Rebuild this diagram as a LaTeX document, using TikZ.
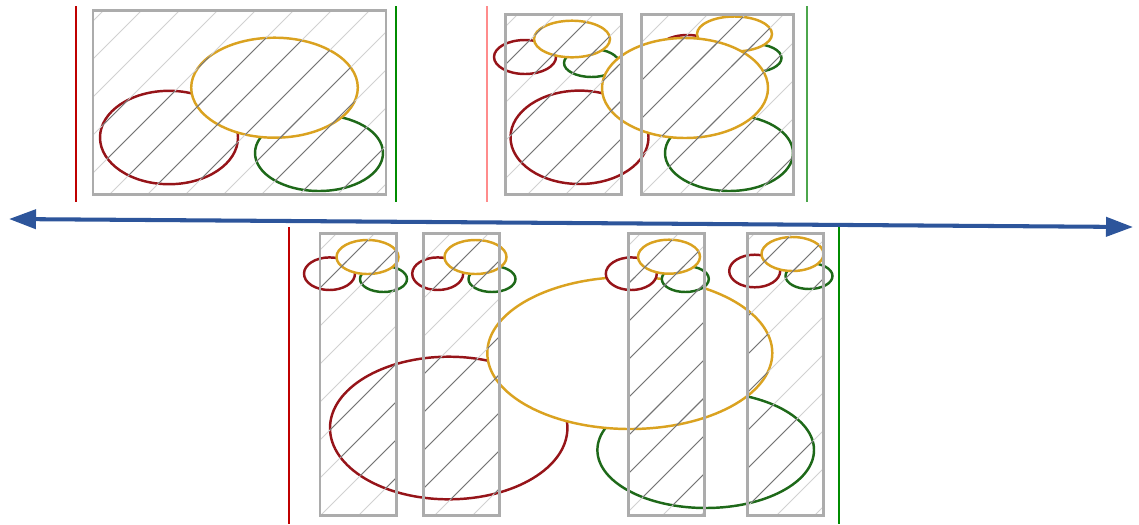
\documentclass[tikz,border=0pt]{standalone}
\usetikzlibrary{arrows.meta}
\definecolor{ellred}{RGB}{150, 20, 25}
\definecolor{ellgold}{RGB}{218, 162, 32}
\definecolor{ellgreen}{RGB}{30, 105, 25}
\definecolor{boxgray}{RGB}{172, 172, 172}
\definecolor{arrowblue}{RGB}{45, 85, 155}

% hatching over the whole sheet, cut by the clip in force
\newcommand{\hatchlines}[1]{%
  \foreach \hx in {0,38,...,1406} {\draw[#1] (\hx,0) -- ++(-600,-600);}}

% ellipses as colour/cx/cy/rx/ry, pixel units, y going down
\newcommand{\ellipses}[1]{%
  \foreach \col/\ex/\ey/\erx/\ery in #1 {%
    \draw[ellline, draw=\col] (\ex,-\ey) ellipse [x radius=\erx, y radius=\ery];}}

% darker hatching inside the ellipses
\newcommand{\darkhatch}[1]{%
  \foreach \col/\ex/\ey/\erx/\ery in #1 {%
    \begin{scope}
      \clip (\ex,-\ey) ellipse [x radius=\erx, y radius=\ery];
      \hatchlines{hatchdark}
    \end{scope}}}

\begin{document}
\begin{tikzpicture}[x=0.2mm, y=0.2mm,
  ellline/.style={line width=1.4pt, fill=white},
  boxline/.style={draw=boxgray, line width=1.7pt},
  hatchlight/.style={draw=black!18, line width=0.5pt},
  hatchdark/.style={draw=black!55, line width=0.5pt},
  redmark/.style={draw=red!75!black, line width=0.7pt},
  greenmark/.style={draw=green!55!black, line width=0.7pt},
  timearrow/.style={draw=arrowblue, line width=2.3pt,
    {Triangle[length=5.4mm, width=3.8mm]}-{Triangle[length=5.4mm, width=3.8mm]}}]

\useasboundingbox (0,0) rectangle (1139,-524);

% ============================================================
%  PANEL 1  --  one box, three ellipses
% ============================================================
\def\ellone{ellred/169/137.5/69/46.7, ellgreen/319/153/64/38,
  ellgold/274.5/87.7/83.3/50}
\draw[redmark] (76,-6) -- (76,-202);
\draw[greenmark] (396,-6) -- (396,-202);
\ellipses{\ellone}
\begin{scope}
  \clip (93,-10) rectangle (386,-194);
  \hatchlines{hatchlight}
  \darkhatch{\ellone}
\end{scope}
\draw[boxline] (93,-10) rectangle (386,-194);

% ============================================================
%  PANEL 2  --  two boxes, small clusters under the big ones
% ============================================================
\def\elltwo{ellred/525/57/31/17, ellgreen/591.5/63/27.5/14,
  ellgold/572/39/38/18.3,
  ellred/687.5/52/31/17, ellgreen/754/58/27.5/14,
  ellgold/734.5/34/37.5/17.5,
  ellred/579.5/137.3/69/46.7, ellgreen/729/153/64/38,
  ellgold/685/88/83/50}
\draw[redmark, draw=red!45] (487,-6) -- (487,-202);
\draw[greenmark, draw=green!50!black!70] (807,-6) -- (807,-202);
\ellipses{\elltwo}
\begin{scope}
  \clip (505,-14) rectangle (621,-194) (641,-14) rectangle (793,-194);
  \hatchlines{hatchlight}
  \darkhatch{\elltwo}
\end{scope}
\draw[boxline] (505,-14) rectangle (621,-194);
\draw[boxline] (641,-14) rectangle (793,-194);

% ============================================================
%  PANEL 3  --  four bars, small clusters on top
% ============================================================
% cluster offsets from the red one: gold (+38,-16.7), green (+54,+5.3)
\def\ellthree{ellred/448.7/428/118.7/71.3, ellgreen/705.7/450/108.3/58,
  ellgold/629.8/353/142.5/76,
  ellred/329.5/273.7/25.5/16.3, ellgreen/383.5/279/23.5/13,
  ellgold/367.5/257/31/17,
  ellred/437.7/273.7/25.5/16.3, ellgreen/492/279/23.5/13,
  ellgold/475.5/257/31/17,
  ellred/631.3/273.7/25.5/16.3, ellgreen/685.3/279/23.5/13,
  ellgold/669/256.7/31/17,
  ellred/754.7/271/25.5/16.3, ellgreen/809/276/23.5/13,
  ellgold/792.5/254/31/17}
\draw[redmark] (289,-227) -- (289,-524);
\draw[greenmark] (839,-227) -- (839,-524);
\ellipses{\ellthree}
\begin{scope}
  \clip (320,-233) rectangle (396,-515) (423,-233) rectangle (499,-515)
        (628,-233) rectangle (704,-515) (747,-233) rectangle (823,-515);
  \hatchlines{hatchlight}
  \darkhatch{\ellthree}
\end{scope}
\foreach \bx in {320,423,628,747}
  \draw[boxline] (\bx,-233) rectangle ++(76,-282);

% ---- double arrow between the rows ----
\coordinate (leftend) at (9,-219);
\coordinate (rightend) at (1133,-227);
\draw[timearrow] (leftend) -- (rightend);

\end{tikzpicture}
\end{document}
